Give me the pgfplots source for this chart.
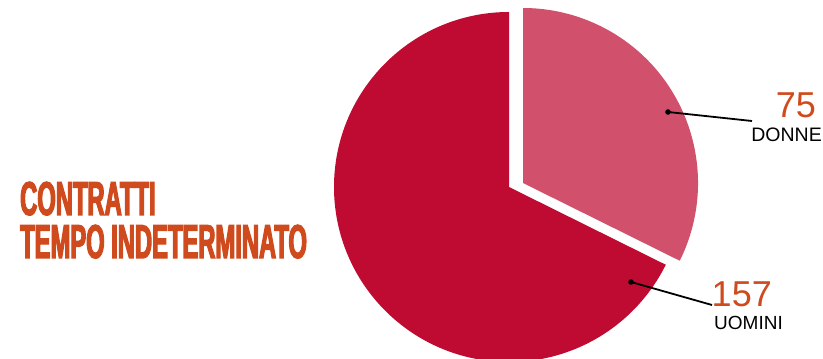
\documentclass[border=0pt]{standalone}
\usepackage{pgfplots}
\pgfplotsset{compat=1.18}
\usepackage{fontspec}
\setmainfont{Liberation Sans}
\newfontfamily\titlefont{Liberation Sans Bold}[FakeStretch=0.5,FakeBold=2.5]
\definecolor{uom}{HTML}{BF0B31}
\definecolor{don}{HTML}{D1506B}
\definecolor{ora}{HTML}{CF4A1C}
\begin{document}
\begin{tikzpicture}
\pgfmathsetmacro\vD{75}
\pgfmathsetmacro\vU{157}
\pgfmathsetmacro\fD{\vD/(\vD+\vU)}
\pgfmathsetmacro\aD{90-360*\fD}
\pgfmathsetmacro\aU{\aD+360}
\begin{axis}[width=823pt,height=359pt,scale only axis,
  xmin=0,xmax=823,ymin=0,ymax=359,hide axis]
\path (axis cs:0,0) rectangle (axis cs:823,359);
% uomini slice
\fill[uom] (axis cs:509,172) -- ++(90:175pt) arc[start angle=90,end angle=\aU,radius=175pt] -- cycle;
% donne slice (exploded)
\fill[don] (axis cs:523,176) -- ++(\aD:175pt) arc[start angle=\aD,end angle=90,radius=175pt] -- cycle;
% leader lines
\draw[line width=1.8pt] (axis cs:668,247) -- (axis cs:752,238);
\fill (axis cs:668,247) circle[radius=2.8pt];
\draw[line width=1.8pt] (axis cs:631,77) -- (axis cs:712,54);
\fill (axis cs:631,77) circle[radius=2.8pt];
% labels
\node[anchor=base east,inner sep=0,text=ora,font=\fontsize{36}{36}\selectfont] at (axis cs:816,241) {75};
\node[anchor=base east,inner sep=0,font=\fontsize{19.5}{19.5}\selectfont] at (axis cs:822,217) {DONNE};
\node[anchor=base east,inner sep=0,text=ora,font=\fontsize{36}{36}\selectfont] at (axis cs:772,52) {157};
\node[anchor=base east,inner sep=0,font=\fontsize{19}{19}\selectfont] at (axis cs:783,29) {UOMINI};
% title
\node[anchor=base west,inner sep=0,text=ora,font=\titlefont\fontsize{47.5}{47.5}\selectfont] at (axis cs:20,144) {CONTRATTI};
\node[anchor=base west,inner sep=0,text=ora,font=\titlefont\fontsize{47.5}{47.5}\selectfont] at (axis cs:20,101) {TEMPO INDETERMINATO};
\end{axis}
\end{tikzpicture}
\end{document}
